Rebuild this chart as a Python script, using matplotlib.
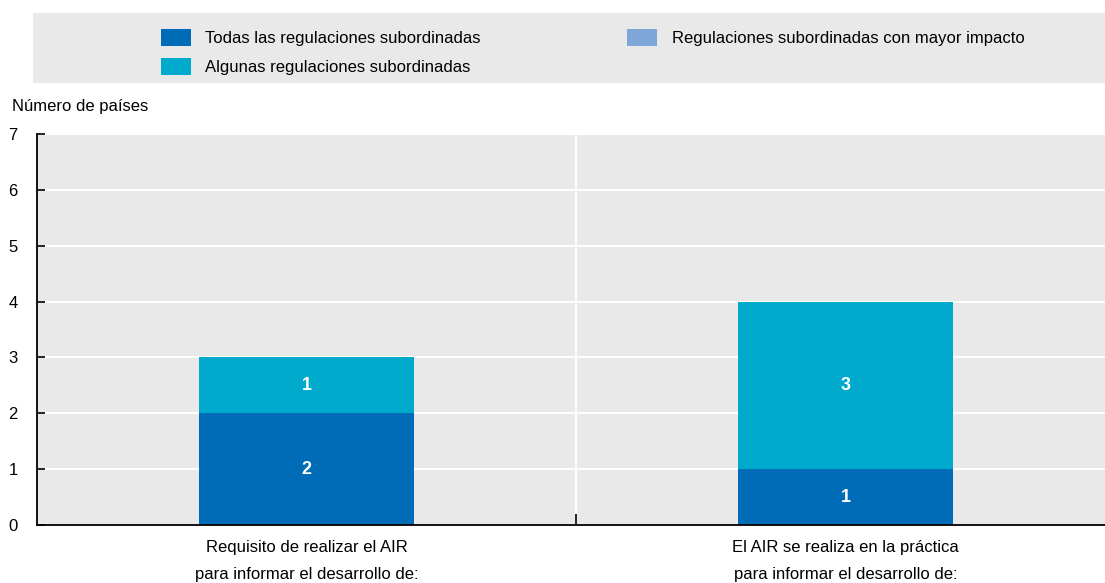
import matplotlib
matplotlib.use("Agg")
import matplotlib.pyplot as plt
from matplotlib.patches import Patch, Rectangle
import numpy as np

plt.rcParams['font.family'] = ['Liberation Sans Narrow', 'Liberation Sans', 'DejaVu Sans']

categories = ["Requisito de realizar el AIR\npara informar el desarrollo de:",
              "El AIR se realiza en la práctica\npara informar el desarrollo de:"]
series_names = ["Todas las regulaciones subordinadas",
                "Algunas regulaciones subordinadas",
                "Regulaciones subordinadas con mayor impacto"]
todas = [2, 1]
algunas = [1, 3]
mayor = [0, 0]
colors = ["#006BB6", "#00AACC", "#7FA6D9"]
yticks = [0, 1, 2, 3, 4, 5, 6, 7]

fig = plt.figure(figsize=(11.05, 5.83), dpi=100)
W, H = 1105, 583
ax = fig.add_axes([37 / W, 1 - 525 / H, (1115 - 37) / W, (525 - 134) / H])
ax.set_facecolor("#E9E9E9")

x = np.arange(len(categories))
bw = 0.4
bottom = np.zeros(len(categories))
for vals, col in zip([todas, algunas, mayor], colors):
    ax.bar(x, vals, bw, bottom=bottom, color=col, zorder=3)
    for xi, v, b in zip(x, vals, bottom):
        if v > 0:
            ax.text(xi, b + v / 2, str(v), ha="center", va="center", color="white",
                    fontsize=13, fontweight="bold", zorder=4)
    bottom = bottom + np.array(vals)

ax.set_xlim(-0.5, 1.5)
ax.set_ylim(0, 7)
ax.set_yticks(yticks)
ax.set_yticklabels([str(t) for t in yticks], fontsize=12)
ax.yaxis.grid(True, color="white", linewidth=1.5, zorder=1)
ax.set_xticks(x)
ax.set_xticklabels(categories, fontsize=12, linespacing=1.95)
ax.tick_params(axis="x", length=0, pad=11)
ax.set_xticks([0.5], minor=True)
ax.tick_params(axis="x", which="minor", direction="in", length=8, width=1.2, color="black")
ax.axvline(0.5, color="white", linewidth=1.5, zorder=1)
ax.tick_params(axis="y", direction="in", length=6, width=1.2, pad=14)
for s in ["top", "right"]:
    ax.spines[s].set_visible(False)
ax.spines["left"].set_linewidth(1.3)
ax.spines["bottom"].set_linewidth(1.3)
ax.spines["left"].set_zorder(5)
ax.spines["bottom"].set_zorder(5)

fig.text(12 / W, 1 - 106 / H, "Número de países", fontsize=12, va="center", ha="left")

# legend background
fig.patches.append(Rectangle((33 / W, 1 - 83 / H), (1105 - 33) / W, 70 / H,
                             transform=fig.transFigure, facecolor="#E9E9E9",
                             edgecolor="none", zorder=0))
handles = [Patch(facecolor=colors[0]), Patch(facecolor=colors[1]),
           Patch(facecolor=colors[2]), Patch(facecolor="none", edgecolor="none")]
labels = [series_names[0], series_names[1], series_names[2], ""]
leg = fig.legend(handles, labels, ncol=2, loc="upper left",
                 bbox_to_anchor=(146 / W, 1 - 14 / H), frameon=False, fontsize=12,
                 handlelength=1.8, handleheight=1.2, handletextpad=0.85,
                 columnspacing=8.8, labelspacing=0.7)

fig.savefig("out.png", dpi=100)
